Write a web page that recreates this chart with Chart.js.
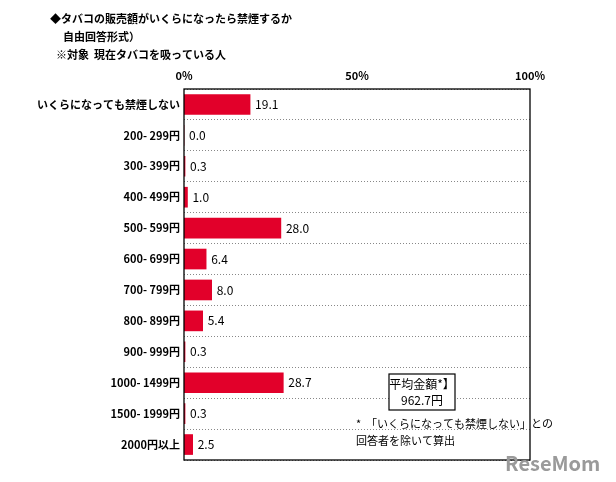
<!DOCTYPE html><html><head><meta charset="utf-8">
<script src="https://cdn.jsdelivr.net/npm/chart.js@4"></script>
<style>html,body{margin:0;padding:0;background:#fff}#w{width:616px;height:482px;position:relative}</style></head><body>
<div id="w"><canvas id="c" width="616" height="482"></canvas></div>
<script>
const categories=["いくらになっても禁煙しない","200- 299円","300- 399円","400- 499円","500- 599円","600- 699円","700- 799円","800- 899円","900- 999円","1000- 1499円","1500- 1999円","2000円以上"];
const values=[19.1,0.0,0.3,1.0,28.0,6.4,8.0,5.4,0.3,28.7,0.3,2.5];
const tickLabels={0:"0%",50:"50%",100:"100%"};
const F='"Noto Sans CJK JP", sans-serif';
const deco={id:'deco',afterDraw(ch){
 const c=ch.ctx,a=ch.chartArea,xs=ch.scales.x,ys=ch.scales.y;
 c.save();
 c.strokeStyle='#000';c.lineWidth=1.3;c.strokeRect(a.left,a.top,a.right-a.left,a.bottom-a.top);
 c.fillStyle='#000';c.font='12px '+F;c.textBaseline='middle';c.textAlign='left';
 values.forEach((v,i)=>{c.fillText(v.toFixed(1),xs.getPixelForValue(v)+5,ys.getPixelForValue(i));});
 c.font='bold 11px '+F;
 c.fillText('◆タバコの販売額がいくらになったら禁煙するか',50,19);
 c.fillText('自由回答形式）',63,37);
 c.fillText('※対象  現在タバコを吸っている人',56,55);
 c.font='bold 11px '+F;c.textAlign='center';
 [0,50,100].forEach(t=>c.fillText(tickLabels[t],xs.getPixelForValue(t),76));
 c.fillStyle='#fff';c.fillRect(389,374,66,36);c.fillStyle='#000';
 c.lineWidth=1.2;c.strokeRect(389,374,66,36);
 c.font='12px '+F;
 c.fillText('平均金額*】',422,384);c.fillText('962.7円',422,400);
 c.textAlign='left';c.font='11px '+F;
 c.fillText('*  「いくらになっても禁煙しない」との',356,424);
 c.fillText('回答者を除いて算出',356,441);
 c.font='bold 20px '+F;c.fillStyle='#9a9a9a';c.fillText('ReseMom',505,463);
 c.restore();}};
new Chart(document.getElementById('c'),{type:'bar',
 data:{labels:categories,datasets:[{data:values,backgroundColor:'#e2002a',barThickness:20}]},
 options:{indexAxis:'y',responsive:false,animation:false,
  layout:{padding:{top:89,right:86,bottom:22,left:0}},
  plugins:{legend:{display:false},tooltip:{enabled:false}},
  scales:{
   x:{position:'top',min:0,max:100,display:false},
   y:{grid:{offset:true,drawTicks:false,color:'#888',lineWidth:1},border:{display:false,dash:[1,2]},
      afterFit(s){s.width=184;},
      ticks:{color:'#000',font:{family:F,size:11,weight:'bold'},padding:4}}
  }},plugins:[deco]});
</script></body></html>
